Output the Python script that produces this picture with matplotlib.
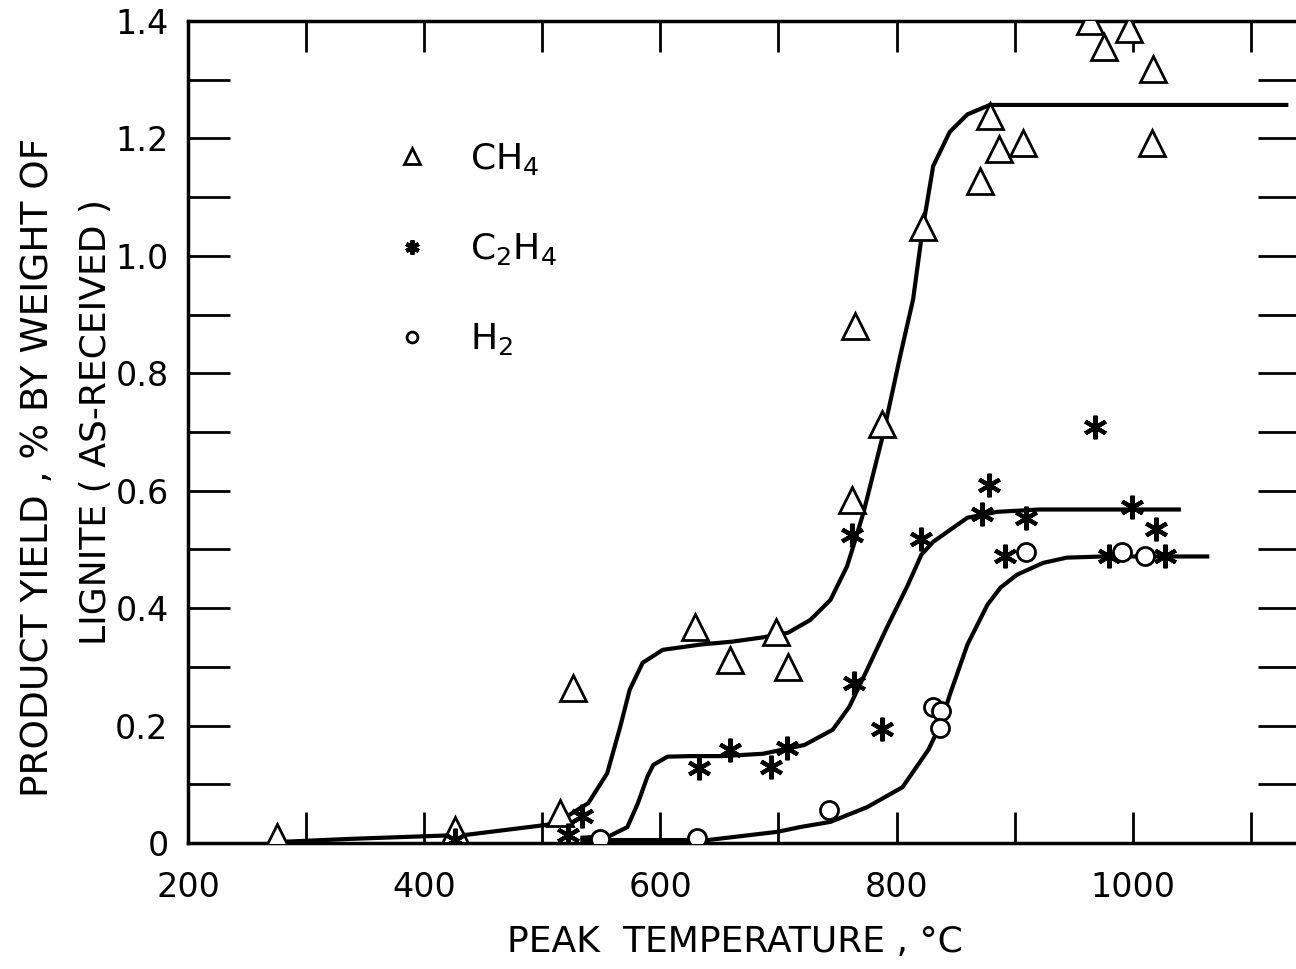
import matplotlib
matplotlib.use("Agg")
import matplotlib.pyplot as plt

# measured points, peak temperature (deg C) vs yield (wt %)
ch4_t = [275, 426, 515, 526, 629, 659, 698, 708, 762, 765, 788, 822,
         871, 879, 887, 907, 964, 976, 997, 1016, 1017]
ch4_y = [0.010, 0.022, 0.051, 0.264, 0.368, 0.312, 0.360, 0.300, 0.585, 0.880, 0.713, 1.049,
         1.127, 1.238, 1.182, 1.193, 1.400, 1.356, 1.386, 1.193, 1.318]

c2h4_t = [426, 522, 534, 633, 659, 694, 707, 762, 764, 788, 821,
          872, 878, 892, 910, 968, 980, 999, 1020, 1027]
c2h4_y = [0.005, 0.014, 0.046, 0.128, 0.159, 0.130, 0.162, 0.525, 0.273, 0.194, 0.517,
          0.560, 0.609, 0.488, 0.554, 0.708, 0.489, 0.573, 0.534, 0.488]

h2_t = [549, 631, 743, 831, 838, 837, 910, 991, 1010]
h2_y = [0.007, 0.009, 0.056, 0.232, 0.225, 0.196, 0.495, 0.495, 0.488]

# hand-drawn curves
ch4_curve_t = [280, 337, 436, 504, 519, 539, 555, 566, 574, 585, 602, 634, 661, 686,
               708, 727, 744, 758, 763, 772, 789, 803, 814, 822, 831, 845, 860, 879, 1130]
ch4_curve_y = [0.002, 0.007, 0.014, 0.031, 0.043, 0.068, 0.119, 0.198, 0.261, 0.307, 0.329,
               0.338, 0.343, 0.350, 0.358, 0.380, 0.414, 0.471, 0.503, 0.563, 0.699, 0.829,
               0.926, 1.045, 1.153, 1.211, 1.241, 1.257, 1.257]

c2h4_curve_t = [534, 557, 572, 581, 589, 594, 606, 625, 652, 687, 722, 746, 760, 775,
                792, 809, 821, 831, 860, 885, 921, 1039]
c2h4_curve_y = [0.009, 0.012, 0.027, 0.068, 0.113, 0.133, 0.147, 0.148, 0.148, 0.152,
                0.167, 0.193, 0.232, 0.295, 0.368, 0.437, 0.491, 0.513, 0.554, 0.564,
                0.568, 0.568]

h2_curve_t = [534, 640, 699, 718, 744, 775, 805, 827, 837, 845, 860, 877, 888, 902,
              924, 944, 975, 1063]
h2_curve_y = [0.005, 0.005, 0.019, 0.027, 0.036, 0.061, 0.095, 0.159, 0.201, 0.252,
              0.338, 0.406, 0.435, 0.457, 0.477, 0.486, 0.488, 0.488]

x_ticks = [200, 300, 400, 500, 600, 700, 800, 900, 1000, 1100]
x_labels = ["200", "", "400", "", "600", "", "800", "", "1000", ""]
y_ticks = [0, 0.1, 0.2, 0.3, 0.4, 0.5, 0.6, 0.7, 0.8, 0.9, 1.0, 1.1, 1.2, 1.3, 1.4]
y_labels = ["0", "", "0.2", "", "0.4", "", "0.6", "", "0.8", "", "1.0", "", "1.2", "", "1.4"]

plt.rcParams["font.family"] = "DejaVu Sans"
plt.rcParams["mathtext.default"] = "regular"

fig = plt.figure(figsize=(12.96, 9.69), dpi=100)
ax = fig.add_axes([188 / 1296, 126 / 969, 1112 / 1296, 822 / 969])

ax.plot(ch4_curve_t, ch4_curve_y, color="black", lw=3, zorder=2)
ax.plot(c2h4_curve_t, c2h4_curve_y, color="black", lw=3, zorder=2)
ax.plot(h2_curve_t, h2_curve_y, color="black", lw=3, zorder=2)

l1, = ax.plot(ch4_t, ch4_y, ls="none", marker="^", ms=19, mfc="white", mec="black",
              mew=2, zorder=3)
l2, = ax.plot(c2h4_t, c2h4_y, ls="none", marker=(6, 2, 0), ms=17, mec="black",
              mew=3, zorder=3)
l3, = ax.plot(h2_t, h2_y, ls="none", marker="o", ms=13, mfc="white", mec="black",
              mew=2, zorder=3)

ax.set_xlim(200, 1141.6)
ax.set_ylim(0, 1.4)
ax.set_xticks(x_ticks)
ax.set_xticklabels(x_labels)
ax.set_yticks(y_ticks)
ax.set_yticklabels(y_labels)
ax.tick_params(direction="in", top=True, right=True, width=2, labelsize=24)
ax.tick_params(axis="x", length=22, pad=20)
ax.tick_params(axis="y", length=30, pad=14)
for sp in ax.spines.values():
    sp.set_linewidth(2.5)

leg = ax.legend([l1, l2, l3], ["CH$_4$", "C$_2$H$_4$", "H$_2$"],
                loc="upper left", bbox_to_anchor=(0.169, 0.876), frameon=False,
                markerscale=0.6, handlelength=1.0, handletextpad=1.1,
                labelspacing=1.5, borderpad=0,
                prop={"size": 26})

fig.text(38 / 1296, 1 - 467 / 969, "PRODUCT YIELD , % BY WEIGHT OF", rotation=90,
         ha="center", va="center", fontsize=27)
fig.text(96 / 1296, 1 - 422 / 969, "LIGNITE ( AS-RECEIVED )", rotation=90,
         ha="center", va="center", fontsize=26)
fig.text(735 / 1296, 1 - 942 / 969, "PEAK  TEMPERATURE , °C", ha="center", va="center",
         fontsize=26)

fig.savefig("out.png", dpi=100)
